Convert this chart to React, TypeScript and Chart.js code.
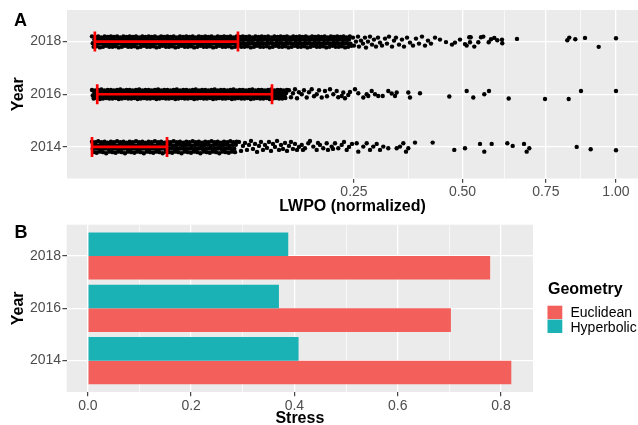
import React, { useEffect, useRef } from "react";
import { Chart, registerables } from "chart.js";

Chart.register(...registerables);

// ------------------------------------------------------------------ data
const years = ["2014", "2016", "2018"];
const yearPos = [1, 2, 3];

// Panel A: LWPO (normalized) per observation, as [value, vertical jitter]
const lwpo2018 = [
  [0,0.1],[0.00001,-0.1],[0.00004,0.09],[0.00008,-0.09],[0.00014,0.1],[0.00023,-0.11],[0.00032,0.08],[0.00044,-0.1],[0.00058,0.1],[0.00073,-0.08],[0.0009,0.09],[0.00109,-0.1],
  [0.0013,0.1],[0.00152,-0.1],[0.00176,0.09],[0.00203,-0.09],[0.0023,0.1],[0.0026,-0.11],[0.00292,0.08],[0.00325,-0.1],[0.0036,0.1],[0.00397,-0.08],[0.00436,0.09],[0.00476,-0.1],
  [0.00518,0.1],[0.00563,-0.1],[0.00608,0.09],[0.00656,-0.09],[0.00706,0.1],[0.00757,-0.11],[0.0081,0.08],[0.00865,-0.1],[0.00922,0.1],[0.0098,-0.08],[0.0104,0.09],[0.011,-0.1],
  [0.0117,0.1],[0.0123,-0.1],[0.013,0.09],[0.0137,-0.09],[0.0144,0.1],[0.0151,-0.11],[0.0159,0.08],[0.0166,-0.1],[0.0174,0.1],[0.0182,-0.08],[0.019,0.09],[0.0199,-0.1],
  [0.0207,0.1],[0.0216,-0.1],[0.0225,0.09],[0.0234,-0.09],[0.0243,0.1],[0.0253,-0.11],[0.0262,0.08],[0.0272,-0.1],[0.0282,0.1],[0.0292,-0.08],[0.0303,0.09],[0.0313,-0.1],
  [0.0324,0.1],[0.0335,-0.1],[0.0346,0.09],[0.0357,-0.09],[0.0369,0.1],[0.038,-0.11],[0.0392,0.08],[0.0404,-0.1],[0.0416,0.1],[0.0428,-0.08],[0.0441,0.09],[0.0454,-0.1],
  [0.0467,0.1],[0.048,-0.1],[0.0493,0.09],[0.0506,-0.09],[0.052,0.1],[0.0534,-0.11],[0.0548,0.08],[0.0562,-0.1],[0.0576,0.1],[0.059,-0.08],[0.0605,0.09],[0.062,-0.1],
  [0.0635,0.1],[0.065,-0.1],[0.0666,0.09],[0.0681,-0.09],[0.0697,0.1],[0.0713,-0.11],[0.0729,0.08],[0.0745,-0.1],[0.0762,0.1],[0.0778,-0.08],[0.0795,0.09],[0.0812,-0.1],
  [0.0829,0.1],[0.0847,-0.1],[0.0864,0.09],[0.0882,-0.09],[0.09,0.1],[0.0918,-0.11],[0.0936,0.08],[0.0955,-0.1],[0.0973,0.1],[0.0992,-0.08],[0.1011,0.09],[0.103,-0.1],
  [0.105,0.1],[0.1069,-0.1],[0.1089,0.09],[0.1109,-0.09],[0.1129,0.1],[0.1149,-0.11],[0.117,0.08],[0.119,-0.1],[0.1211,0.1],[0.1232,-0.08],[0.1253,0.09],[0.1274,-0.1],
  [0.1296,0.1],[0.1318,-0.1],[0.134,0.09],[0.1362,-0.09],[0.1384,0.1],[0.1406,-0.11],[0.1429,0.08],[0.1452,-0.1],[0.1475,0.1],[0.1498,-0.08],[0.1521,0.09],[0.1544,-0.1],
  [0.1568,0.1],[0.1592,-0.1],[0.1616,0.09],[0.164,-0.09],[0.1665,0.1],[0.1689,-0.11],[0.1714,0.08],[0.1739,-0.1],[0.1764,0.1],[0.1789,-0.08],[0.1815,0.09],[0.184,-0.1],
  [0.1866,0.1],[0.1892,-0.1],[0.1918,0.09],[0.1945,-0.09],[0.1971,0.1],[0.1998,-0.11],[0.2025,0.08],[0.2052,-0.1],[0.2079,0.1],[0.2107,-0.08],[0.2134,0.09],[0.2162,-0.1],
  [0.219,0.1],[0.2218,-0.1],[0.2247,0.09],[0.2275,-0.09],[0.2304,0.1],[0.2333,-0.11],[0.2362,0.08],[0.2391,-0.1],[0.2421,0.1],[0.245,-0.08],
  [0.000002,-0.03],[0.00002,0.04],[0.000056,-0.04],[0.00011,0.03],[0.00018,-0.035],[0.00027,0.035],[0.00038,-0.03],[0.00051,0.04],[0.00065,-0.04],[0.00081,0.03],[0.00099,-0.035],[0.00119,0.035],
  [0.00141,-0.03],[0.00164,0.04],[0.00189,-0.04],[0.00216,0.03],[0.00245,-0.035],[0.00276,0.035],[0.00308,-0.03],[0.00342,0.04],[0.00378,-0.04],[0.00416,0.03],[0.00456,-0.035],[0.00497,0.035],
  [0.0054,-0.03],[0.00585,0.04],[0.00632,-0.04],[0.00681,0.03],[0.00731,-0.035],[0.00783,0.035],[0.00837,-0.03],[0.00893,0.04],[0.00951,-0.04],[0.0101,0.03],[0.0107,-0.035],[0.0113,0.035],
  [0.012,-0.03],[0.0127,0.04],[0.0133,-0.04],[0.014,0.03],[0.0148,-0.035],[0.0155,0.035],[0.0163,-0.03],[0.017,0.04],[0.0178,-0.04],[0.0186,0.03],[0.0195,-0.035],[0.0203,0.035],
  [0.0212,-0.03],[0.0221,0.04],[0.023,-0.04],[0.0239,0.03],[0.0248,-0.035],[0.0258,0.035],[0.0267,-0.03],[0.0277,0.04],[0.0287,-0.04],[0.0298,0.03],[0.0308,-0.035],[0.0319,0.035],
  [0.0329,-0.03],[0.034,0.04],[0.0352,-0.04],[0.0363,0.03],[0.0374,-0.035],[0.0386,0.035],[0.0398,-0.03],[0.041,0.04],[0.0422,-0.04],[0.0435,0.03],[0.0447,-0.035],[0.046,0.035],
  [0.0473,-0.03],[0.0486,0.04],[0.05,-0.04],[0.0513,0.03],[0.0527,-0.035],[0.0541,0.035],[0.0555,-0.03],[0.0569,0.04],[0.0583,-0.04],[0.0598,0.03],[0.0613,-0.035],[0.0628,0.035],
  [0.0643,-0.03],[0.0658,0.04],[0.0673,-0.04],[0.0689,0.03],[0.0705,-0.035],[0.0721,0.035],[0.0737,-0.03],[0.0754,0.04],[0.077,-0.04],[0.0787,0.03],[0.0804,-0.035],[0.0821,0.035],
  [0.0838,-0.03],[0.0856,0.04],[0.0873,-0.04],[0.0891,0.03],[0.0909,-0.035],[0.0927,0.035],[0.0946,-0.03],[0.0964,0.04],[0.0983,-0.04],[0.1002,0.03],[0.1021,-0.035],[0.104,0.035],
  [0.106,-0.03],[0.1079,0.04],[0.1099,-0.04],[0.1119,0.03],[0.1139,-0.035],[0.1159,0.035],[0.118,-0.03],[0.1201,0.04],[0.1222,-0.04],[0.1243,0.03],[0.1264,-0.035],[0.1285,0.035],
  [0.1307,-0.03],[0.1329,0.04],[0.1351,-0.04],[0.1373,0.03],[0.1395,-0.035],[0.1418,0.035],[0.144,-0.03],[0.1463,0.04],[0.1486,-0.04],[0.1509,0.03],[0.1533,-0.035],[0.1556,0.035],
  [0.158,-0.03],[0.1604,0.04],[0.1628,-0.04],[0.1652,0.03],[0.1677,-0.035],[0.1702,0.035],[0.1726,-0.03],[0.1751,0.04],[0.1777,-0.04],[0.1802,0.03],[0.1828,-0.035],[0.1853,0.035],
  [0.1879,-0.03],[0.1905,0.04],[0.1932,-0.04],[0.1958,0.03],[0.1985,-0.035],[0.2012,0.035],[0.2039,-0.03],[0.2066,0.04],[0.2093,-0.04],[0.2121,0.03],[0.2148,-0.035],[0.2176,0.035],
  [0.2204,-0.03],[0.2233,0.04],[0.2261,-0.04],[0.229,0.03],[0.2318,-0.035],[0.2347,0.035],[0.2377,-0.03],[0.2406,0.04],[0.2435,-0.04],
  [0.2481,0.076],[0.25,-0.076],[0.2538,0],[0.2577,0.095],[0.2596,-0.095],[0.2635,0.019],[0.2675,-0.038],[0.2714,0.076],[0.2734,-0.114],[0.2774,0],[0.2815,0.095],[0.2855,-0.057],
  [0.2896,0.038],[0.2937,-0.095],[0.2979,0.076],[0.3021,-0.019],[0.3063,-0.076],[0.3127,0.057],[0.3169,-0.038],[0.3213,0.095],[0.3278,-0.095],[0.3322,0.019],[0.3366,0.076],[0.3433,-0.057],
  [0.35,0.038],[0.3545,-0.095],[0.3614,0.076],[0.3683,-0.019],[0.3753,-0.076],[0.3823,0.057],[0.3894,-0.038],[0.3966,0.095],[0.4039,-0.076],[0.4111,0.019],[0.4185,-0.038],[0.4285,0.076],
  [0.441,0.038],[0.4564,-0.01],[0.472,-0.057],[0.4799,-0.019],[0.4932,0.038],[0.5067,-0.048],[0.5113,-0.076],[0.5184,0.082],[0.5223,0.082],[0.5204,-0.013],[0.5323,-0.095],[0.5435,-0.013],
  [0.5511,0.082],[0.5577,0.095],[0.5731,-0.013],[0.5798,0.044],[0.5894,0.07],[0.5983,0.025],[0.6122,0.038],[0.6131,-0.032],[0.6578,0.051],[0.8228,0.025],[0.8297,0.076],[0.8507,0.044],
  [0.8852,0.07],[0.9351,-0.1],[1,0.063],
];

const lwpo2016 = [
  [0,0.08],[0.00001,-0.08],[0.00004,0.07],[0.00008,-0.07],[0.00014,0.08],[0.00023,-0.09],[0.00032,0.09],[0.00044,-0.08],[0.00058,0.07],[0.00073,-0.07],[0.0009,0.08],[0.00109,-0.08],
  [0.0013,0.08],[0.00152,-0.08],[0.00176,0.07],[0.00203,-0.07],[0.0023,0.08],[0.0026,-0.09],[0.00292,0.09],[0.00325,-0.08],[0.0036,0.07],[0.00397,-0.07],[0.00436,0.08],[0.00476,-0.08],
  [0.00518,0.08],[0.00563,-0.08],[0.00608,0.07],[0.00656,-0.07],[0.00706,0.08],[0.00757,-0.09],[0.0081,0.09],[0.00865,-0.08],[0.00922,0.07],[0.0098,-0.07],[0.0104,0.08],[0.011,-0.08],
  [0.0117,0.08],[0.0123,-0.08],[0.013,0.07],[0.0137,-0.07],[0.0144,0.08],[0.0151,-0.09],[0.0159,0.09],[0.0166,-0.08],[0.0174,0.07],[0.0182,-0.07],[0.019,0.08],[0.0199,-0.08],
  [0.0207,0.08],[0.0216,-0.08],[0.0225,0.07],[0.0234,-0.07],[0.0243,0.08],[0.0253,-0.09],[0.0262,0.09],[0.0272,-0.08],[0.0282,0.07],[0.0292,-0.07],[0.0303,0.08],[0.0313,-0.08],
  [0.0324,0.08],[0.0335,-0.08],[0.0346,0.07],[0.0357,-0.07],[0.0369,0.08],[0.038,-0.09],[0.0392,0.09],[0.0404,-0.08],[0.0416,0.07],[0.0428,-0.07],[0.0441,0.08],[0.0454,-0.08],
  [0.0467,0.08],[0.048,-0.08],[0.0493,0.07],[0.0506,-0.07],[0.052,0.08],[0.0534,-0.09],[0.0548,0.09],[0.0562,-0.08],[0.0576,0.07],[0.059,-0.07],[0.0605,0.08],[0.062,-0.08],
  [0.0635,0.08],[0.065,-0.08],[0.0666,0.07],[0.0681,-0.07],[0.0697,0.08],[0.0713,-0.09],[0.0729,0.09],[0.0745,-0.08],[0.0762,0.07],[0.0778,-0.07],[0.0795,0.08],[0.0812,-0.08],
  [0.0829,0.08],[0.0847,-0.08],[0.0864,0.07],[0.0882,-0.07],[0.09,0.08],[0.0918,-0.09],[0.0936,0.09],[0.0955,-0.08],[0.0973,0.07],[0.0992,-0.07],[0.1011,0.08],[0.103,-0.08],
  [0.105,0.08],[0.1069,-0.08],[0.1089,0.07],[0.1109,-0.07],[0.1129,0.08],[0.1149,-0.09],[0.117,0.09],[0.119,-0.08],[0.1211,0.07],[0.1232,-0.07],[0.1253,0.08],[0.1274,-0.08],
  [0.1296,0.08],[0.1318,-0.08],[0.134,0.07],[0.1362,-0.07],[0.1384,0.08],
  [0.000002,-0.025],[0.00002,0.03],[0.000056,-0.03],[0.00011,0.025],[0.00018,-0.025],[0.00027,0.03],[0.00038,-0.03],[0.00051,0.025],[0.00065,-0.025],[0.00081,0.03],[0.00099,-0.03],[0.00119,0.025],
  [0.00141,-0.025],[0.00164,0.03],[0.00189,-0.03],[0.00216,0.025],[0.00245,-0.025],[0.00276,0.03],[0.00308,-0.03],[0.00342,0.025],[0.00378,-0.025],[0.00416,0.03],[0.00456,-0.03],[0.00497,0.025],
  [0.0054,-0.025],[0.00585,0.03],[0.00632,-0.03],[0.00681,0.025],[0.00731,-0.025],[0.00783,0.03],[0.00837,-0.03],[0.00893,0.025],[0.00951,-0.025],[0.0101,0.03],[0.0107,-0.03],[0.0113,0.025],
  [0.012,-0.025],[0.0127,0.03],[0.0133,-0.03],[0.014,0.025],[0.0148,-0.025],[0.0155,0.03],[0.0163,-0.03],[0.017,0.025],[0.0178,-0.025],[0.0186,0.03],[0.0195,-0.03],[0.0203,0.025],
  [0.0212,-0.025],[0.0221,0.03],[0.023,-0.03],[0.0239,0.025],[0.0248,-0.025],[0.0258,0.03],[0.0267,-0.03],[0.0277,0.025],[0.0287,-0.025],[0.0298,0.03],[0.0308,-0.03],[0.0319,0.025],
  [0.0329,-0.025],[0.034,0.03],[0.0352,-0.03],[0.0363,0.025],[0.0374,-0.025],[0.0386,0.03],[0.0398,-0.03],[0.041,0.025],[0.0422,-0.025],[0.0435,0.03],[0.0447,-0.03],[0.046,0.025],
  [0.0473,-0.025],[0.0486,0.03],[0.05,-0.03],[0.0513,0.025],[0.0527,-0.025],[0.0541,0.03],[0.0555,-0.03],[0.0569,0.025],[0.0583,-0.025],[0.0598,0.03],[0.0613,-0.03],[0.0628,0.025],
  [0.0643,-0.025],[0.0658,0.03],[0.0673,-0.03],[0.0689,0.025],[0.0705,-0.025],[0.0721,0.03],[0.0737,-0.03],[0.0754,0.025],[0.077,-0.025],[0.0787,0.03],[0.0804,-0.03],[0.0821,0.025],
  [0.0838,-0.025],[0.0856,0.03],[0.0873,-0.03],[0.0891,0.025],[0.0909,-0.025],[0.0927,0.03],[0.0946,-0.03],[0.0964,0.025],[0.0983,-0.025],[0.1002,0.03],[0.1021,-0.03],[0.104,0.025],
  [0.106,-0.025],[0.1079,0.03],[0.1099,-0.03],[0.1119,0.025],[0.1139,-0.025],[0.1159,0.03],[0.118,-0.03],[0.1201,0.025],[0.1222,-0.025],[0.1243,0.03],[0.1264,-0.03],[0.1285,0.025],
  [0.1307,-0.025],[0.1329,0.03],[0.1351,-0.03],[0.1373,0.025],
  [0.1413,0.076],[0.1442,-0.057],[0.1471,0.019],[0.1501,0.095],[0.1531,-0.076],[0.156,0.038],[0.1602,0],[0.1637,0.076],[0.1679,-0.063],[0.1715,0.038],[0.1758,0.095],[0.1795,-0.038],
  [0.1839,0],[0.1877,0.076],[0.1922,-0.063],[0.1977,0.063],[0.2011,-0.038],[0.2063,0.095],[0.2121,0],[0.2181,0.063],[0.2209,-0.057],[0.2271,-0.032],[0.23,0.032],[0.2331,-0.076],
  [0.2392,-0.013],[0.2424,0.044],[0.2519,0.095],[0.2583,0.019],[0.2681,-0.063],[0.2748,0],[0.278,-0.032],[0.2849,0.063],[0.2917,0],[0.2985,-0.032],[0.3078,-0.032],[0.3197,0.063],
  [0.3271,0.013],[0.3344,-0.032],[0.3381,0.032],[0.3644,0.032],[0.3683,-0.063],[0.3918,0.019],[0.465,-0.044],[0.5113,0.063],[0.5295,-0.063],[0.5605,0],[0.574,0.063],[0.6324,-0.082],
  [0.7474,-0.09],[0.8276,-0.09],[0.8709,0.063],[1,0.063],
];

const lwpo2014 = [
  [0,0.1],[0.00001,-0.1],[0.00004,0.09],[0.00008,-0.11],[0.00014,0.11],[0.00023,-0.09],[0.00032,0.09],[0.00044,-0.1],[0.00058,0.1],[0.00073,-0.12],[0.0009,0.08],[0.00109,-0.09],
  [0.0013,0.1],[0.00152,-0.1],[0.00176,0.09],[0.00203,-0.11],[0.0023,0.11],[0.0026,-0.09],[0.00292,0.09],[0.00325,-0.1],[0.0036,0.1],[0.00397,-0.12],[0.00436,0.08],[0.00476,-0.09],
  [0.00518,0.1],[0.00563,-0.1],[0.00608,0.09],[0.00656,-0.11],[0.00706,0.11],[0.00757,-0.09],[0.0081,0.09],[0.00865,-0.1],[0.00922,0.1],[0.0098,-0.12],[0.0104,0.08],[0.011,-0.09],
  [0.0117,0.1],[0.0123,-0.1],[0.013,0.09],[0.0137,-0.11],[0.0144,0.11],[0.0151,-0.09],[0.0159,0.09],[0.0166,-0.1],[0.0174,0.1],[0.0182,-0.12],[0.019,0.08],[0.0199,-0.09],
  [0.0207,0.1],[0.0216,-0.1],[0.0225,0.09],[0.0234,-0.11],[0.0243,0.11],[0.0253,-0.09],[0.0262,0.09],[0.0272,-0.1],[0.0282,0.1],[0.0292,-0.12],[0.0303,0.08],[0.0313,-0.09],
  [0.0324,0.1],[0.0335,-0.1],[0.0346,0.09],[0.0357,-0.11],[0.0369,0.11],[0.038,-0.09],[0.0392,0.09],[0.0404,-0.1],[0.0416,0.1],[0.0428,-0.12],[0.0441,0.08],[0.0454,-0.09],
  [0.0467,0.1],[0.048,-0.1],[0.0493,0.09],[0.0506,-0.11],[0.052,0.11],[0.0534,-0.09],[0.0548,0.09],[0.0562,-0.1],[0.0576,0.1],[0.059,-0.12],[0.0605,0.08],[0.062,-0.09],
  [0.0635,0.1],[0.065,-0.1],[0.0666,0.09],[0.0681,-0.11],[0.0697,0.11],[0.0713,-0.09],[0.0729,0.09],[0.0745,-0.1],[0.0762,0.1],
  [0.000002,-0.035],[0.00002,0.04],[0.000056,-0.03],[0.00011,0.03],[0.00018,-0.04],[0.00027,0.035],[0.00038,-0.035],[0.00051,0.04],[0.00065,-0.03],[0.00081,0.03],[0.00099,-0.04],[0.00119,0.035],
  [0.00141,-0.035],[0.00164,0.04],[0.00189,-0.03],[0.00216,0.03],[0.00245,-0.04],[0.00276,0.035],[0.00308,-0.035],[0.00342,0.04],[0.00378,-0.03],[0.00416,0.03],[0.00456,-0.04],[0.00497,0.035],
  [0.0054,-0.035],[0.00585,0.04],[0.00632,-0.03],[0.00681,0.03],[0.00731,-0.04],[0.00783,0.035],[0.00837,-0.035],[0.00893,0.04],[0.00951,-0.03],[0.0101,0.03],[0.0107,-0.04],[0.0113,0.035],
  [0.012,-0.035],[0.0127,0.04],[0.0133,-0.03],[0.014,0.03],[0.0148,-0.04],[0.0155,0.035],[0.0163,-0.035],[0.017,0.04],[0.0178,-0.03],[0.0186,0.03],[0.0195,-0.04],[0.0203,0.035],
  [0.0212,-0.035],[0.0221,0.04],[0.023,-0.03],[0.0239,0.03],[0.0248,-0.04],[0.0258,0.035],[0.0267,-0.035],[0.0277,0.04],[0.0287,-0.03],[0.0298,0.03],[0.0308,-0.04],[0.0319,0.035],
  [0.0329,-0.035],[0.034,0.04],[0.0352,-0.03],[0.0363,0.03],[0.0374,-0.04],[0.0386,0.035],[0.0398,-0.035],[0.041,0.04],[0.0422,-0.03],[0.0435,0.03],[0.0447,-0.04],[0.046,0.035],
  [0.0473,-0.035],[0.0486,0.04],[0.05,-0.03],[0.0513,0.03],[0.0527,-0.04],[0.0541,0.035],[0.0555,-0.035],[0.0569,0.04],[0.0583,-0.03],[0.0598,0.03],[0.0613,-0.04],[0.0628,0.035],
  [0.0643,-0.035],[0.0658,0.04],[0.0673,-0.03],[0.0689,0.03],[0.0705,-0.04],[0.0721,0.035],[0.0737,-0.035],[0.0754,0.04],
  [0.0787,0.095],[0.0809,-0.076],[0.083,0.019],[0.0853,0.076],[0.0875,-0.057],[0.0898,0.038],[0.0921,0.114],[0.0944,-0.038],[0.0968,0.057],[0.0992,-0.095],[0.1016,0.019],[0.104,0.095],
  [0.1065,-0.057],[0.109,0.038],[0.1115,-0.019],[0.1141,0.095],[0.1167,-0.076],[0.1193,0.057],[0.122,0],[0.1247,0.114],[0.1274,-0.057],[0.1301,0.038],[0.1329,-0.038],[0.1357,0.076],
  [0.1385,-0.076],[0.1413,0.019],[0.1442,0.095],[0.1471,-0.038],[0.1501,0.057],[0.1531,-0.057],[0.156,0],[0.1602,0.038],[0.1621,-0.057],[0.1652,-0.025],[0.1704,0.07],[0.1731,0.114],
  [0.1784,0.006],[0.1839,-0.057],[0.186,0.076],[0.1893,0.038],[0.1948,-0.025],[0.2006,0.07],[0.2028,-0.057],[0.2092,0.006],[0.2115,-0.038],[0.2151,0.07],[0.2209,-0.025],[0.2271,0.038],
  [0.2313,0.095],[0.2363,-0.057],[0.2406,0],[0.2462,0.057],[0.2552,0.07],[0.2583,-0.09],[0.2681,0.006],[0.2748,0.07],[0.2815,-0.057],[0.2882,0.006],[0.2952,0.057],[0.3021,-0.057],
  [0.309,0.006],[0.3197,-0.025],[0.3381,-0.025],[0.3455,0.006],[0.353,0.07],[0.3591,-0.09],[0.3644,-0.025],[0.38,0.082],[0.4227,0.082],[0.478,-0.057],[0.5067,-0.025],[0.5483,0.057],
  [0.5605,-0.09],[0.5818,0.057],[0.6282,0.07],[0.6446,0.019],[0.6797,0.057],[0.6882,-0.09],[0.6965,-0.025],[0.8556,0],[0.9057,-0.044],[1,-0.063],
];

// red interval per year (2014, 2016, 2018)
const lwpoIntervalLow = [0, 0.0001, 0.00003];
const lwpoIntervalHigh = [0.0205, 0.118, 0.0776];

const lwpoTicks = [0.25, 0.5, 0.75, 1];
const lwpoTickLabels = ["0.25", "0.50", "0.75", "1.00"];

// Panel B: stress per year (2014, 2016, 2018)
const geometries = ["Euclidean", "Hyperbolic"];
const stressEuclidean = [0.82, 0.703, 0.779];
const stressHyperbolic = [0.408, 0.37, 0.388];
const stressTicks = [0, 0.2, 0.4, 0.6, 0.8];
const stressTickLabels = ["0.0", "0.2", "0.4", "0.6", "0.8"];

// ------------------------------------------------------------------ style
const FONT = "'Liberation Sans', Arial, Helvetica, sans-serif";
const PANEL_BG = "#EBEBEB";
const TICK_TEXT = "#4D4D4D";
const TICK_MARK = "#333333";
const GEOM_COLORS: any = { Euclidean: "#F35F5B", Hyperbolic: "#1AB2B5" };

Chart.defaults.font.family = FONT;

function minorBreaks(major: number[], lo: number, hi: number) {
  const bd = major[1] - major[0];
  const b = [major[0] - bd, ...major, major[major.length - 1] + bd];
  const out: number[] = [];
  for (let i = 0; i < b.length - 1; i++) out.push(b[i], (b[i] + b[i + 1]) / 2);
  out.push(b[b.length - 1]);
  return out.filter(
    (v) => v >= lo && v <= hi && !major.some((m) => Math.abs(m - v) < 1e-9)
  );
}

function tickList(major: number[], lo: number, hi: number) {
  const minors = minorBreaks(major, lo, hi);
  const all = [
    ...major.filter((v) => v >= lo && v <= hi).map((v) => ({ value: v, isMinor: false })),
    ...minors.map((v) => ({ value: v, isMinor: true })),
  ];
  return all.sort((a, b) => a.value - b.value);
}

const gridOpts = {
  color: "#FFFFFF",
  offset: false,
  lineWidth: (c: any) => (c.tick && c.tick.isMinor ? 0.65 : 1.3),
  drawTicks: true,
  tickLength: 4.3,
  tickWidth: 1.1,
  tickColor: (c: any) => (c.tick && c.tick.isMinor ? "rgba(0,0,0,0)" : TICK_MARK),
};

const panelBg = {
  id: "panelBg",
  beforeDraw(chart: any) {
    const { ctx, chartArea: a } = chart;
    ctx.save();
    ctx.fillStyle = PANEL_BG;
    ctx.fillRect(a.left, a.top, a.right - a.left, a.bottom - a.top);
    ctx.restore();
  },
};

function tagPlugin(text: string, x: number, baseline: number) {
  return {
    id: "tag" + text,
    afterDraw(chart: any) {
      const ctx = chart.ctx;
      ctx.save();
      ctx.fillStyle = "#000";
      ctx.font = `bold 18px ${FONT}`;
      ctx.textBaseline = "alphabetic";
      ctx.textAlign = "left";
      ctx.fillText(text, x, baseline);
      ctx.restore();
    },
  };
}

const yearTitle = {
  display: true,
  text: "Year",
  color: "#000",
  font: { size: 16, weight: "bold", family: FONT },
  padding: { top: 9, bottom: 0 },
};

// ------------------------------------------------------------------ panel A
function PanelA() {
  const ref = useRef<HTMLCanvasElement>(null);
  useEffect(() => {
    const byYear = [lwpo2014, lwpo2016, lwpo2018];
    const majorT = lwpoTicks.map((v) => Math.sqrt(v));
    const xMin = -0.0477;
    const xMax = 1.042;

    const intervals = {
      id: "intervals",
      afterDatasetsDraw(chart: any) {
        const { ctx, scales } = chart;
        const xs = scales.x;
        const ys = scales.y;
        ctx.save();
        ctx.strokeStyle = "#FF0000";
        ctx.lineWidth = 2.7;
        years.forEach((_, i) => {
          const x1 = xs.getPixelForValue(Math.sqrt(lwpoIntervalLow[i]));
          const x2 = xs.getPixelForValue(Math.sqrt(lwpoIntervalHigh[i]));
          const yc = ys.getPixelForValue(yearPos[i]);
          const yt = ys.getPixelForValue(yearPos[i] + 0.19);
          const yb = ys.getPixelForValue(yearPos[i] - 0.19);
          ctx.beginPath();
          ctx.moveTo(x1, yc);
          ctx.lineTo(x2, yc);
          ctx.moveTo(x1, yt);
          ctx.lineTo(x1, yb);
          ctx.moveTo(x2, yt);
          ctx.lineTo(x2, yb);
          ctx.stroke();
        });
        ctx.restore();
      },
    };

    const chart = new Chart(ref.current as HTMLCanvasElement, {
      type: "scatter",
      data: {
        datasets: byYear.map((rows, i) => ({
          label: years[i],
          data: rows.map(([v, j]) => ({ x: Math.sqrt(v), y: yearPos[i] + j })),
          pointRadius: 2.2,
          pointHoverRadius: 2.2,
          pointBorderWidth: 0,
          pointBackgroundColor: "#000000",
          backgroundColor: "#000000",
        })),
      },
      options: {
        animation: false,
        responsive: false,
        events: [],
        layout: { autoPadding: false, padding: { top: 10, left: 0, right: 0, bottom: 0 } },
        plugins: { legend: { display: false }, tooltip: { enabled: false } },
        scales: {
          x: {
            type: "linear",
            min: xMin,
            max: xMax,
            afterBuildTicks: (s: any) => {
              s.ticks = tickList(majorT, xMin, xMax);
            },
            afterFit: (s: any) => {
              s.height = 36.5;
            },
            grid: gridOpts as any,
            border: { display: false },
            ticks: {
              autoSkip: false,
              maxRotation: 0,
              padding: 1,
              color: TICK_TEXT,
              font: { size: 14, family: FONT },
              callback: (v: any) => {
                const k = majorT.findIndex((m) => Math.abs(m - v) < 1e-9);
                return k >= 0 ? lwpoTickLabels[k] : "";
              },
            },
            title: {
              display: true,
              text: "LWPO (normalized)",
              color: "#000",
              font: { size: 16, weight: "bold", family: FONT },
              padding: { top: 0, bottom: -1.4 },
            },
          },
          y: {
            type: "linear",
            min: 0.4,
            max: 3.6,
            afterBuildTicks: (s: any) => {
              s.ticks = yearPos.map((v) => ({ value: v, isMinor: false }));
            },
            afterFit: (s: any) => {
              s.width = 67;
            },
            grid: gridOpts as any,
            border: { display: false },
            ticks: {
              autoSkip: false,
              padding: 1.3,
              color: TICK_TEXT,
              font: { size: 14, family: FONT },
              callback: (v: any) => years[yearPos.indexOf(v)],
            },
            title: yearTitle as any,
          },
        },
      } as any,
      plugins: [panelBg, intervals, tagPlugin("A", 14, 26)],
    });
    return () => chart.destroy();
  }, []);
  return (
    <canvas
      ref={ref}
      width={638}
      height={215}
      style={{ position: "absolute", left: 0, top: 0, width: 638, height: 215 }}
    />
  );
}

// ------------------------------------------------------------------ panel B
function PanelB() {
  const ref = useRef<HTMLCanvasElement>(null);
  useEffect(() => {
    const xMin = -0.041;
    const xMax = 0.862;
    const series: any = { Euclidean: stressEuclidean, Hyperbolic: stressHyperbolic };
    // Hyperbolic first so that it sits in the upper slot of each year
    const drawOrder = ["Hyperbolic", "Euclidean"];

    const legend = {
      id: "geometryLegend",
      afterDraw(chart: any) {
        const ctx = chart.ctx;
        ctx.save();
        ctx.textAlign = "left";
        ctx.textBaseline = "alphabetic";
        ctx.fillStyle = "#000";
        ctx.font = `bold 16px ${FONT}`;
        ctx.fillText("Geometry", 548, 79.3);
        geometries.forEach((g, i) => {
          const ds = chart.data.datasets.find((d: any) => d.label === g);
          ctx.fillStyle = ds.backgroundColor;
          ctx.fillRect(547.5, 90.7 + i * 13.9, 14.8, 13.4);
          ctx.fillStyle = "#000";
          ctx.font = `14px ${FONT}`;
          ctx.fillText(g, 570.5, 102.3 + i * 14.3);
        });
        ctx.restore();
      },
    };

    const chart = new Chart(ref.current as HTMLCanvasElement, {
      type: "bar",
      data: {
        datasets: drawOrder.map((g) => ({
          label: g,
          data: series[g].map((v: number, i: number) => ({ x: v, y: yearPos[i] })),
          backgroundColor: GEOM_COLORS[g],
          borderWidth: 0,
          categoryPercentage: 0.9,
          barPercentage: 1,
        })),
      },
      options: {
        indexAxis: "y",
        animation: false,
        responsive: false,
        events: [],
        layout: { autoPadding: false, padding: { top: 8.3, left: 0, right: 105, bottom: 0 } },
        plugins: { legend: { display: false }, tooltip: { enabled: false } },
        scales: {
          x: {
            type: "linear",
            min: xMin,
            max: xMax,
            offset: false,
            afterBuildTicks: (s: any) => {
              s.ticks = tickList(stressTicks, xMin, xMax);
            },
            afterFit: (s: any) => {
              s.height = 33;
            },
            grid: gridOpts as any,
            border: { display: false },
            ticks: {
              autoSkip: false,
              maxRotation: 0,
              padding: 1,
              color: TICK_TEXT,
              font: { size: 14, family: FONT },
              callback: (v: any) => {
                const k = stressTicks.findIndex((m) => Math.abs(m - v) < 1e-9);
                return k >= 0 ? stressTickLabels[k] : "";
              },
            },
            title: {
              display: true,
              text: "Stress",
              color: "#000",
              font: { size: 16, weight: "bold", family: FONT },
              padding: { top: 0, bottom: -3.1 },
            },
          },
          y: {
            type: "linear",
            min: 0.4,
            max: 3.6,
            offset: false,
            afterBuildTicks: (s: any) => {
              s.ticks = yearPos.map((v) => ({ value: v, isMinor: false }));
            },
            afterFit: (s: any) => {
              s.width = 66.7;
            },
            grid: gridOpts as any,
            border: { display: false },
            ticks: {
              autoSkip: false,
              padding: 1.3,
              color: TICK_TEXT,
              font: { size: 14, family: FONT },
              callback: (v: any) => years[yearPos.indexOf(v)],
            },
            title: yearTitle as any,
          },
        },
      } as any,
      plugins: [panelBg, legend, tagPlugin("B", 14.5, 23.3)],
    });
    return () => chart.destroy();
  }, []);
  return (
    <canvas
      ref={ref}
      width={638}
      height={210}
      style={{ position: "absolute", left: 0, top: 215, width: 638, height: 210 }}
    />
  );
}

export default function App() {
  return (
    <div
      style={{
        position: "absolute",
        left: 0,
        top: 0,
        width: 638,
        height: 425,
        background: "#FFFFFF",
        overflow: "hidden",
      }}
    >
      <PanelA />
      <PanelB />
    </div>
  );
}
